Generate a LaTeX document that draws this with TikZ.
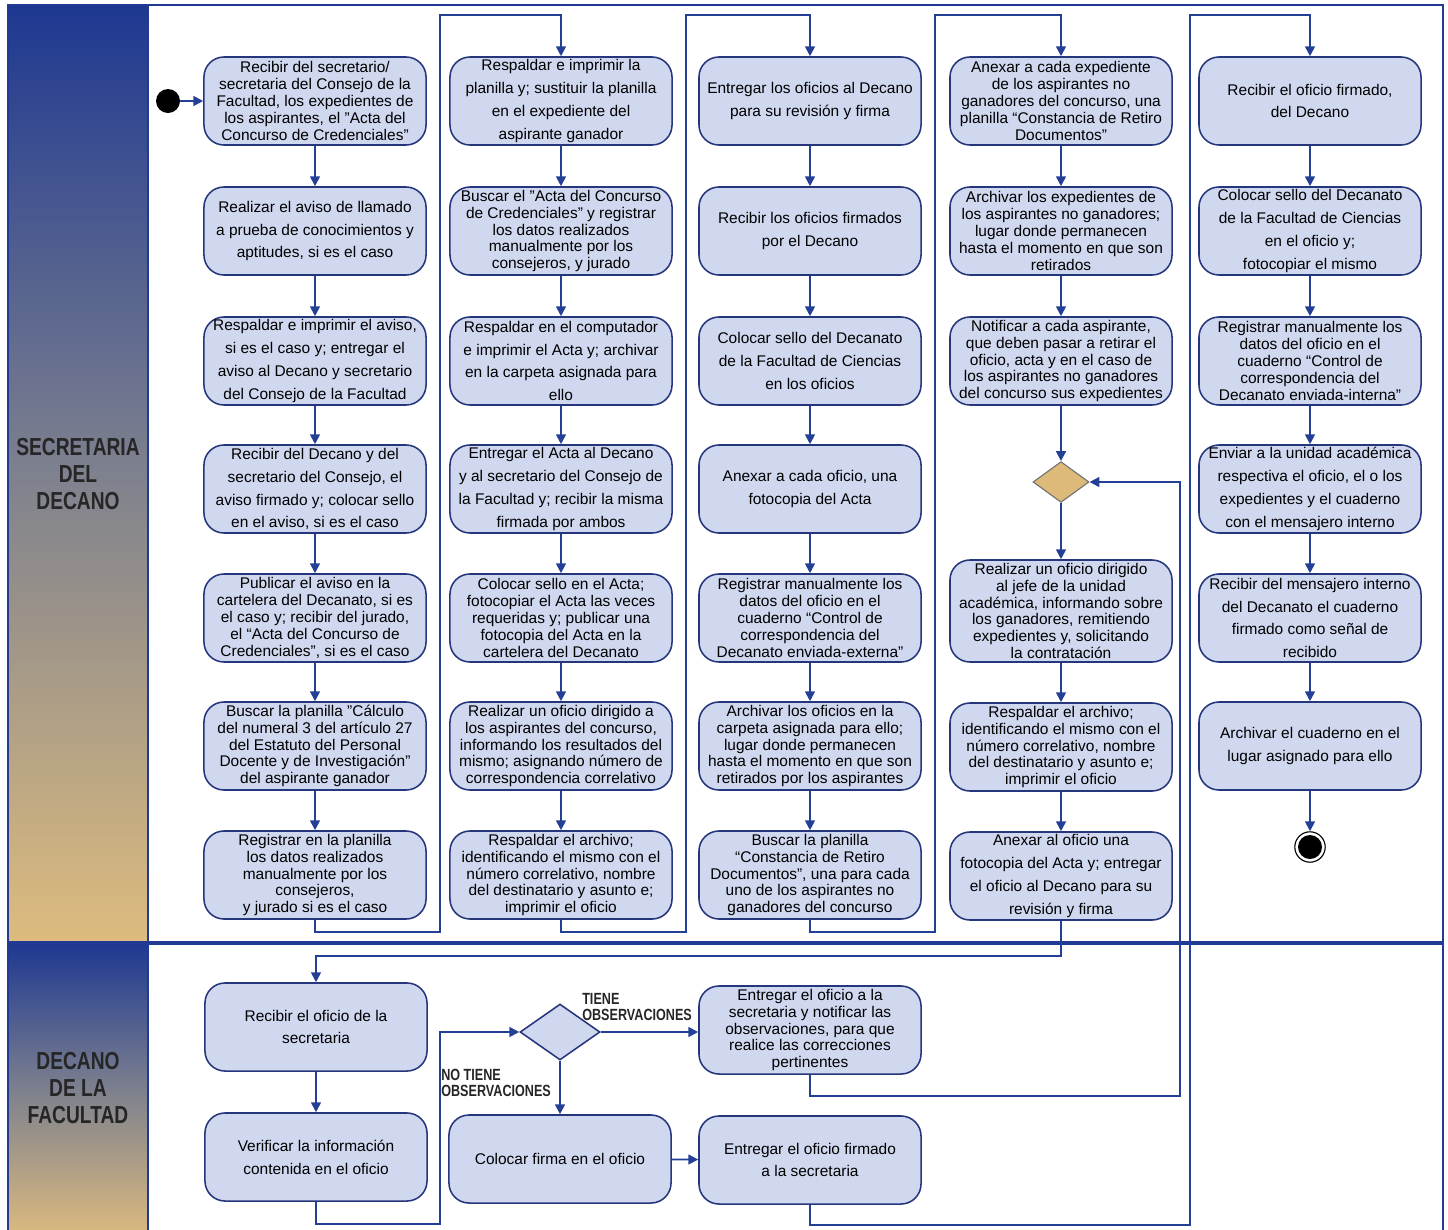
\documentclass[tikz,border=0pt]{standalone}
\usepackage{fontspec}
\setmainfont{Liberation Sans}
\newfontfamily\lanefont[FakeStretch=0.78]{Liberation Sans}
\usetikzlibrary{arrows.meta,shapes.geometric}
\definecolor{laneblue}{RGB}{33,58,148}
\definecolor{flowblue}{RGB}{36,64,150}
\definecolor{actfill}{RGB}{208,216,239}
\definecolor{actline}{RGB}{38,54,124}
\definecolor{headblue}{RGB}{30,56,145}
\definecolor{headgray}{RGB}{126,129,142}
\definecolor{headtan}{RGB}{222,188,126}
\definecolor{choicetan}{RGB}{222,186,122}
\tikzset{
  act/.style={draw=actline,fill=actfill,line width=1.1pt,rounded corners=0.5cm,
    minimum width=5.55cm,minimum height=2.2cm,inner sep=0pt,align=center,
    font=\fontsize{11}{16.2}\selectfont},
  dense/.style={act,font=\fontsize{11}{12}\selectfont},
  flow/.style={draw=flowblue,line width=1.3pt,-{Triangle[length=7pt,width=7pt]}},
  lanelabel/.style={font=\lanefont\bfseries\fontsize{17.5}{19.5}\selectfont,
    text=black!85,align=center},
  guard/.style={font=\lanefont\bfseries\fontsize{11.5}{11.5}\selectfont,
    text=black!85,align=left,inner sep=0pt}
}
\begin{document}
\begin{tikzpicture}[x=0.025cm,y=-0.025cm]
\useasboundingbox (0,0) rectangle (1448,1230);
% lanes
\shade[top color=headblue,bottom color=headtan,middle color=headgray] (8,5) rectangle (148,943);
\shade[top color=headblue,bottom color=headtan,middle color=headgray] (8,943) rectangle (148,1240);
\draw[laneblue,line width=2pt] (8,5) rectangle (1443,1240);
\draw[laneblue,line width=1.5pt] (148,5) -- (148,1240);
\draw[laneblue,line width=2.8pt] (8,943) -- (1443,943);
\node[lanelabel] (lane1) at (78,474) {SECRETARIA\\DEL\\DECANO};
\node[lanelabel] (lane2) at (78,1088) {DECANO\\DE LA\\FACULTAD};

\node[circle,fill=black,minimum size=0.6cm,inner sep=0pt] (start) at (168,101) {};

\node[dense] (c1a) at (315,101) {Recibir del secretario/\\secretaria del Consejo de la\\Facultad, los expedientes de\\los aspirantes, el "Acta del\\Concurso de Credenciales"};
\node[act] (c1b) at (315,231) {Realizar el aviso de llamado\\a prueba de conocimientos y\\aptitudes, si es el caso};
\node[act] (c1c) at (315,361) {Respaldar e imprimir el aviso,\\si es el caso y; entregar el\\aviso al Decano y secretario\\del Consejo de la Facultad};
\node[act] (c1d) at (315,489) {Recibir del Decano y del\\secretario del Consejo, el\\aviso firmado y; colocar sello\\en el aviso, si es el caso};
\node[dense] (c1e) at (315,618) {Publicar el aviso en la\\cartelera del Decanato, si es\\el caso y; recibir del jurado,\\el “Acta del Concurso de\\Credenciales”, si es el caso};
\node[dense] (c1f) at (315,746) {Buscar la planilla "Cálculo\\del numeral 3 del artículo 27\\del Estatuto del Personal\\Docente y de Investigación"\\del aspirante ganador};
\node[dense] (c1g) at (315,875) {Registrar en la planilla\\los datos realizados\\manualmente por los\\consejeros,\\y jurado si es el caso};

\node[act] (c2a) at (561,101) {Respaldar e imprimir la\\planilla y; sustituir la planilla\\en el expediente del\\aspirante ganador};
\node[dense] (c2b) at (561,231) {Buscar el "Acta del Concurso\\de Credenciales" y registrar\\los datos realizados\\manualmente por los\\consejeros, y jurado};
\node[act] (c2c) at (561,361) {Respaldar en el computador\\e imprimir el Acta y; archivar\\en la carpeta asignada para\\ello};
\node[act] (c2d) at (561,489) {Entregar el Acta al Decano\\y al secretario del Consejo de\\la Facultad y; recibir la misma\\firmada por ambos};
\node[dense] (c2e) at (561,618) {Colocar sello en el Acta;\\fotocopiar el Acta las veces\\requeridas y; publicar una\\fotocopia del Acta en la\\cartelera del Decanato};
\node[dense] (c2f) at (561,746) {Realizar un oficio dirigido a\\los aspirantes del concurso,\\informando los resultados del\\mismo; asignando número de\\correspondencia correlativo};
\node[dense] (c2g) at (561,875) {Respaldar el archivo;\\identificando el mismo con el\\número correlativo, nombre\\del destinatario y asunto e;\\imprimir el oficio};

\node[act] (c3a) at (810,101) {Entregar los oficios al Decano\\para su revisión y firma};
\node[act] (c3b) at (810,231) {Recibir los oficios firmados\\por el Decano};
\node[act] (c3c) at (810,361) {Colocar sello del Decanato\\de la Facultad de Ciencias\\en los oficios};
\node[act] (c3d) at (810,489) {Anexar a cada oficio, una\\fotocopia del Acta};
\node[dense] (c3e) at (810,618) {Registrar manualmente los\\datos del oficio en el\\cuaderno “Control de\\correspondencia del\\Decanato enviada-externa”};
\node[dense] (c3f) at (810,746) {Archivar los oficios en la\\carpeta asignada para ello;\\lugar donde permanecen\\hasta el momento en que son\\retirados por los aspirantes};
\node[dense] (c3g) at (810,875) {Buscar la planilla\\“Constancia de Retiro\\Documentos”, una para cada\\uno de los aspirantes no\\ganadores del concurso};

\node[dense] (c4a) at (1061,101) {Anexar a cada expediente\\de los aspirantes no\\ganadores del concurso, una\\planilla “Constancia de Retiro\\Documentos”};
\node[dense] (c4b) at (1061,231) {Archivar los expedientes de\\los aspirantes no ganadores;\\lugar donde permanecen\\hasta el momento en que son\\retirados};
\node[dense] (c4c) at (1061,361) {Notificar a cada aspirante,\\que deben pasar a retirar el\\oficio, acta y en el caso de\\los aspirantes no ganadores\\del concurso sus expedientes};
\node[diamond,draw=black!55,fill=choicetan,line width=0.8pt,minimum width=1.4cm,minimum height=1.02cm,inner sep=0pt] (choice) at (1061,482) {};
\node[dense,minimum height=2.55cm] (c4d) at (1061,611) {Realizar un oficio dirigido\\al jefe de la unidad\\académica, informando sobre\\los ganadores, remitiendo\\expedientes y, solicitando\\la contratación};
\node[dense] (c4e) at (1061,747) {Respaldar el archivo;\\identificando el mismo con el\\número correlativo, nombre\\del destinatario y asunto e;\\imprimir el oficio};
\node[act] (c4f) at (1061,876) {Anexar al oficio una\\fotocopia del Acta y; entregar\\el oficio al Decano para su\\revisión y firma};

\node[act] (c5a) at (1310,101) {Recibir el oficio firmado,\\del Decano};
\node[act] (c5b) at (1310,231) {Colocar sello del Decanato\\de la Facultad de Ciencias\\en el oficio y;\\fotocopiar el mismo};
\node[dense] (c5c) at (1310,361) {Registrar manualmente los\\datos del oficio en el\\cuaderno “Control de\\correspondencia del\\Decanato enviada-interna”};
\node[act] (c5d) at (1310,489) {Enviar a la unidad académica\\respectiva el oficio, el o los\\expedientes y el cuaderno\\con el mensajero interno};
\node[act] (c5e) at (1310,618) {Recibir del mensajero interno\\del Decanato el cuaderno\\firmado como señal de\\recibido};
\node[act] (c5f) at (1310,746) {Archivar el cuaderno en el\\lugar asignado para ello};
\node[circle,draw=black,line width=0.8pt,minimum size=0.76cm,inner sep=0pt] (end) at (1310,847) {};
\fill (end) circle (0.3cm);

\node[act] (d1a) at (316,1027) {Recibir el oficio de la\\secretaria};
\node[act] (d1b) at (316,1157) {Verificar la información\\contenida en el oficio};
\node[diamond,draw=actline,fill=actfill,line width=1.1pt,minimum width=2cm,minimum height=1.4cm,inner sep=0pt] (dec) at (560,1032) {};
\node[act] (d1c) at (560,1159) {Colocar firma en el oficio};
\node[dense] (d1d) at (810,1030) {Entregar el oficio a la\\secretaria y notificar las\\observaciones, para que\\realice las correcciones\\pertinentes};
\node[act] (d1e) at (810,1160) {Entregar el oficio firmado\\a la secretaria};
\node[guard,anchor=south west] (tiene) at (582,1021) {TIENE\\OBSERVACIONES};
\node[guard,anchor=south west] (notiene) at (441,1097) {NO TIENE\\OBSERVACIONES};

\foreach \a/\b in {start/c1a,c1a/c1b,c1b/c1c,c1c/c1d,c1d/c1e,c1e/c1f,c1f/c1g,
  c2a/c2b,c2b/c2c,c2c/c2d,c2d/c2e,c2e/c2f,c2f/c2g,
  c3a/c3b,c3b/c3c,c3c/c3d,c3d/c3e,c3e/c3f,c3f/c3g,
  c4a/c4b,c4b/c4c,c4c/choice,choice/c4d,c4d/c4e,c4e/c4f,
  c5a/c5b,c5b/c5c,c5c/c5d,c5d/c5e,c5e/c5f,c5f/end,
  d1a/d1b,dec/d1c,d1c/d1e}
  \draw[flow] (\a) -- (\b);
\draw[flow] (dec.east) -- (dec.east -| d1d.west);

\draw[flow] (c1g.south) -- ++(0,12) -| (440,15) -| (c2a.north);
\draw[flow] (c2g.south) -- ++(0,12) -| (686,15) -| (c3a.north);
\draw[flow] (c3g.south) -- ++(0,12) -| (935,15) -| (c4a.north);
\draw[flow] (c4f.south) -- ++(0,35) -| (d1a.north);
\draw[flow] (d1b.south) -- ++(0,22) -| (440,1032) -- (dec.west);
\draw[flow] (d1d.south) -- ++(0,21) -| (1180,482) -- (choice.east);
\draw[flow] (d1e.south) -- ++(0,20) -| (1190,15) -| (c5a.north);
\end{tikzpicture}
\end{document}
